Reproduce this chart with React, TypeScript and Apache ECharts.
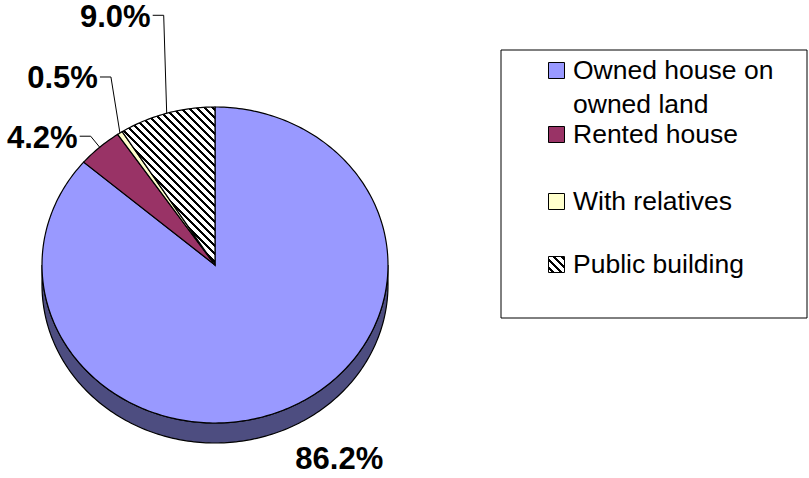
import React, { useEffect, useRef } from 'react';
import * as echarts from 'echarts';

const categories = ['Owned house on\nowned land', 'Rented house', 'With relatives', 'Public building'];
const values = [86.2, 4.2, 0.5, 9.0];
const sliceColors = ['#9999FF', '#993366', '#FFFFCC', 'hatch'];

// layout (rendering only)
const CX = 215, CY = 265, RX = 173, RY = 158, DEPTH = 20;
const SIDE_COLOR = '#4D4D80';
const labelLayout = [
  { dx: 52, dy: 50, leader: false },
  { dx: -9, dy: -11, leader: true },
  { dx: -9, dy: -56, leader: true },
  { dx: -3, dy: -98, leader: true },
];
const legendBaselines = [79, 143, 210, 273];
const FONT = '"Liberation Sans", Arial, sans-serif';

function makeHatch(): string {
  const c = document.createElement('canvas');
  c.width = 8; c.height = 8;
  const ctx = c.getContext('2d')!;
  const img = ctx.createImageData(8, 8);
  for (let y = 0; y < 8; y++) {
    for (let x = 0; x < 8; x++) {
      const k = (((x - y) % 8) + 8) % 8;
      const v = k < 3 ? 0 : 255;
      const o = (y * 8 + x) * 4;
      img.data[o] = v; img.data[o + 1] = v; img.data[o + 2] = v; img.data[o + 3] = 255;
    }
  }
  ctx.putImageData(img, 0, 0);
  return c.toDataURL();
}

function pt(deg: number, dy = 0): number[] {
  const t = (deg * Math.PI) / 180;
  return [CX + RX * Math.sin(t), CY - RY * Math.cos(t) + dy];
}
function arc(a: number, b: number, dy = 0): number[][] {
  const n = Math.max(2, Math.ceil(Math.abs(b - a) / 1));
  const out: number[][] = [];
  for (let k = 0; k <= n; k++) out.push(pt(a + ((b - a) * k) / n, dy));
  return out;
}

export default function App() {
  const ref = useRef<HTMLDivElement>(null);
  useEffect(() => {
    if (!ref.current) return;
    const chart = echarts.init(ref.current, null, { renderer: 'svg' });
    const hatch = makeHatch();
    const fillOf = (i: number): any =>
      sliceColors[i] === 'hatch'
        ? { image: hatch, repeat: 'repeat', imageWidth: 8, imageHeight: 8 }
        : sliceColors[i];
    const total = values.reduce((s, v) => s + v, 0);

    const legendGraphics: any[] = [
      {
        type: 'rect',
        shape: { x: 501, y: 50, width: 306, height: 268 },
        style: { fill: '#fff', stroke: '#000', lineWidth: 1 },
        z: 1,
      },
    ];
    categories.forEach((name, i) => {
      const base = legendBaselines[i];
      legendGraphics.push({
        type: 'rect',
        shape: { x: 548.5, y: base - 16.5, width: 16, height: 16 },
        style: { fill: fillOf(i), stroke: '#000', lineWidth: 1 },
        z: 2,
      });
      name.split('\n').forEach((line, j) => {
        legendGraphics.push({
          type: 'text',
          x: 573,
          y: base - 9 + j * 34,
          style: {
            text: line,
            fontSize: 26.5,
            fontFamily: FONT,
            fill: '#000',
            align: 'left',
            verticalAlign: 'middle',
          },
          z: 2,
        });
      });
    });

    chart.setOption({
      animation: false,
      backgroundColor: '#fff',
      graphic: legendGraphics,
      series: [
        {
          type: 'custom',
          coordinateSystem: 'none',
          data: values,
          renderItem: (params: any, api: any) => {
            const i = params.dataIndex;
            const v = api.value(0);
            let start = 0;
            for (let j = 0; j < i; j++) start += values[j];
            const a0 = (start / total) * 360;
            const a1 = ((start + v) / total) * 360;
            const children: any[] = [];
            const s = Math.max(a0, 90);
            const e = Math.min(a1, 270);
            if (e > s) {
              const pts = arc(s, e, 0).concat(arc(e, s, DEPTH));
              children.push({
                type: 'polygon',
                shape: { points: pts },
                style: { fill: SIDE_COLOR, stroke: '#000', lineWidth: 1.2 },
                z2: 1,
              });
            }
            children.push({
              type: 'polygon',
              shape: { points: [[CX, CY]].concat(arc(a0, a1, 0)) },
              style: { fill: fillOf(i), stroke: '#000', lineWidth: 1.2 },
              z2: 5,
            });
            const m = (a0 + a1) / 2;
            const p = pt(m);
            const L = labelLayout[i];
            const label = v.toFixed(1) + '%';
            if (L.leader) {
              const corner = [p[0] + L.dx, p[1] + L.dy];
              children.push({
                type: 'polyline',
                shape: { points: [p, corner, [corner[0] - 11, corner[1]]] },
                style: { stroke: '#000', lineWidth: 1, fill: 'none' },
                z2: 6,
              });
              children.push({
                type: 'text',
                x: corner[0] - 13,
                y: corner[1] + 1,
                style: {
                  text: label,
                  fontSize: 31,
                  fontWeight: 'bold',
                  fontFamily: FONT,
                  fill: '#000',
                  align: 'right',
                  verticalAlign: 'middle',
                },
                z2: 6,
              });
            } else {
              children.push({
                type: 'text',
                x: p[0] + L.dx,
                y: p[1] + L.dy,
                style: {
                  text: label,
                  fontSize: 31,
                  fontWeight: 'bold',
                  fontFamily: FONT,
                  fill: '#000',
                  align: 'center',
                  verticalAlign: 'middle',
                },
                z2: 6,
              });
            }
            return { type: 'group', children };
          },
        },
      ],
    });
    return () => chart.dispose();
  }, []);
  return (
    <div
      ref={ref}
      style={{ position: 'fixed', left: 0, top: 0, width: 809, height: 478 }}
    />
  );
}
